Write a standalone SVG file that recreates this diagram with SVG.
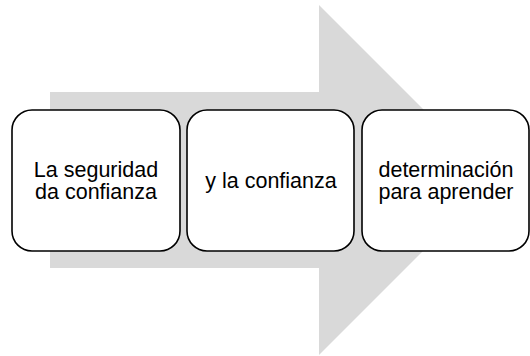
<svg xmlns="http://www.w3.org/2000/svg" width="530" height="356" viewBox="0 0 530 356">
<style>
.box{fill:#fff;stroke:#000;stroke-width:1.6}
.t{font-family:"Liberation Sans",Arial,sans-serif;font-size:21.5px;fill:#000;text-anchor:middle}
</style>
<rect width="530" height="356" fill="#fff"/>
<g id="arrow">
<polygon points="50,92 319,92 319,5 494,180 319,355 319,268 50,268" fill="#d9d9d9"/>
</g>
<g id="connectors"></g>
<g id="node1">
<rect class="box" x="12" y="110" width="168" height="141" rx="20"/>
<text class="t" x="96" y="177">La seguridad</text>
<text class="t" x="96" y="199">da confianza</text>
</g>
<g id="node2">
<rect class="box" x="187" y="110" width="167" height="141" rx="20"/>
<text class="t" x="271" y="188">y la confianza</text>
</g>
<g id="node3">
<rect class="box" x="362" y="110" width="167" height="141" rx="20"/>
<text class="t" x="446" y="177">determinación</text>
<text class="t" x="446" y="199">para aprender</text>
</g>
</svg>
